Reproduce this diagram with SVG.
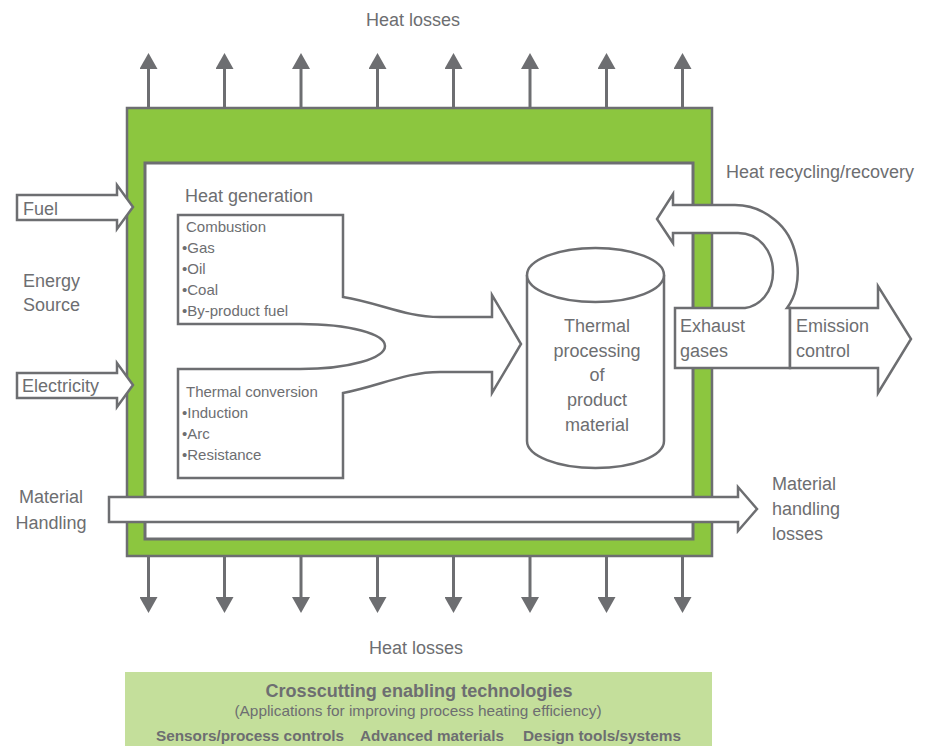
<svg xmlns="http://www.w3.org/2000/svg" width="932" height="746" viewBox="0 0 932 746">
  <style>
    text { font-family: "Liberation Sans", Arial, sans-serif; fill: #6d6e71; }
    .t18 { font-size: 18px; }
    .t15 { font-size: 15px; }
    .mid { text-anchor: middle; }
    .bold { font-weight: bold; }
    .outline { fill: #ffffff; stroke: #6d6e71; stroke-width: 2.5; stroke-linejoin: miter; }
    .loss { stroke: #6d6e71; stroke-width: 3; fill: none; }
  </style>
  <defs>
    <marker id="head" markerUnits="userSpaceOnUse" markerWidth="16" markerHeight="18" viewBox="0 0 16 18" refX="0" refY="9" orient="auto">
      <path d="M0 0 L16 9 L0 18 Z" fill="#6d6e71"/>
    </marker>
  </defs>

  <rect width="932" height="746" fill="#ffffff"/>

  <!-- furnace wall and interior -->
  <g id="furnace">
    <rect x="127" y="108" width="585" height="448" fill="#8cc63f" stroke="#6d6e71" stroke-width="2.5"/>
    <rect x="145" y="163" width="548" height="376" fill="#ffffff" stroke="#6d6e71" stroke-width="3"/>
  </g>

  <!-- heat generation block with merging arrow -->
  <g id="heat-generation">
    <text class="t18" x="185" y="202">Heat generation</text>
    <path class="outline" d="M 178 215 H 343 V 297 C 380 303, 405 317, 440 317 H 492 V 295 L 521 344 L 492 393 V 372 H 440 C 405 372, 380 386, 343 393 V 478 H 178 V 369 H 300 C 350 369, 385 358, 385 346 C 385 334, 350 324, 300 324 H 178 Z"/>
    <text class="t15" x="186" y="232">Combustion</text>
    <text class="t15" x="182" y="253">•Gas</text>
    <text class="t15" x="182" y="274">•Oil</text>
    <text class="t15" x="182" y="295">•Coal</text>
    <text class="t15" x="182" y="316">•By-product fuel</text>
    <text class="t15" x="186" y="397">Thermal conversion</text>
    <text class="t15" x="182" y="418">•Induction</text>
    <text class="t15" x="182" y="439">•Arc</text>
    <text class="t15" x="182" y="460">•Resistance</text>
  </g>

  <!-- product vessel -->
  <g id="thermal-processing">
    <path class="outline" d="M 527 275 V 441 A 68.5 27 0 0 0 664 441 V 275"/>
    <ellipse class="outline" cx="595.5" cy="275" rx="68.5" ry="27"/>
    <text class="t18 mid" x="597" y="332">Thermal</text>
    <text class="t18 mid" x="597" y="357">processing</text>
    <text class="t18 mid" x="597" y="381">of</text>
    <text class="t18 mid" x="597" y="406">product</text>
    <text class="t18 mid" x="597" y="431">material</text>
  </g>

  <!-- exhaust with recovery loop -->
  <g id="exhaust-gases">
    <path class="outline" d="M 675 308 H 745 C 760 306, 773 292, 773 272 C 773 252, 760 233, 738 233 H 673 V 243 L 657 219 L 673 194 V 205 H 735 C 750 205, 762 209, 775 220 C 800 240, 805 285, 787 308 H 790 V 368 H 675 Z"/>
    <text class="t18" x="680" y="332">Exhaust</text>
    <text class="t18" x="680" y="357">gases</text>
    <text class="t18" x="726" y="178">Heat recycling/recovery</text>
  </g>

  <g id="emission-control">
    <path class="outline" d="M 790 308 H 878 V 286 L 911 339 L 878 393 V 368 H 790 Z"/>
    <text class="t18" x="796" y="332">Emission</text>
    <text class="t18" x="796" y="357">control</text>
  </g>

  <!-- inputs, outputs and losses -->
  <g id="connectors">
    <path class="outline" d="M 17 195 H 117 V 185 L 133 207 L 117 229 V 220 H 17 Z"/>
    <path class="outline" d="M 17 373 H 117 V 363 L 133 385 L 117 407 V 398 H 17 Z"/>
    <path class="outline" d="M 109 497 H 738 V 487 L 757 509 L 738 531 V 522 H 109 Z"/>

    <g class="loss" marker-end="url(#head)">
      <line x1="148.5" y1="108" x2="148.5" y2="69"/>
      <line x1="224.5" y1="108" x2="224.5" y2="69"/>
      <line x1="301" y1="108" x2="301" y2="69"/>
      <line x1="377.5" y1="108" x2="377.5" y2="69"/>
      <line x1="453.5" y1="108" x2="453.5" y2="69"/>
      <line x1="530" y1="108" x2="530" y2="69"/>
      <line x1="606.5" y1="108" x2="606.5" y2="69"/>
      <line x1="682.5" y1="108" x2="682.5" y2="69"/>

      <line x1="148.5" y1="556" x2="148.5" y2="597"/>
      <line x1="224.5" y1="556" x2="224.5" y2="597"/>
      <line x1="301" y1="556" x2="301" y2="597"/>
      <line x1="377.5" y1="556" x2="377.5" y2="597"/>
      <line x1="453.5" y1="556" x2="453.5" y2="597"/>
      <line x1="530" y1="556" x2="530" y2="597"/>
      <line x1="606.5" y1="556" x2="606.5" y2="597"/>
      <line x1="682.5" y1="556" x2="682.5" y2="597"/>
    </g>
  </g>

  <!-- labels outside the furnace -->
  <g id="labels">
    <text class="t18 mid" x="413" y="26">Heat losses</text>
    <text class="t18 mid" x="416" y="654">Heat losses</text>
    <text class="t18" x="23" y="215">Fuel</text>
    <text class="t18" x="23" y="287">Energy</text>
    <text class="t18" x="23" y="311">Source</text>
    <text class="t18" x="22" y="392">Electricity</text>
    <text class="t18 mid" x="51" y="503">Material</text>
    <text class="t18 mid" x="51" y="529">Handling</text>
    <text class="t18" x="772" y="490">Material</text>
    <text class="t18" x="772" y="515">handling</text>
    <text class="t18" x="772" y="540">losses</text>
  </g>

  <!-- enabling technologies band -->
  <g id="crosscutting">
    <rect x="125" y="672" width="587" height="74" fill="#c4df9b"/>
    <text class="t18 mid bold" x="419" y="697" textLength="307" lengthAdjust="spacingAndGlyphs">Crosscutting enabling technologies</text>
    <text class="t15 mid" x="418" y="716" textLength="367" lengthAdjust="spacingAndGlyphs">(Applications for improving process heating efficiency)</text>
    <text class="t15 bold" x="156" y="741" textLength="188" lengthAdjust="spacingAndGlyphs">Sensors/process controls</text>
    <text class="t15 bold" x="360" y="741" textLength="144" lengthAdjust="spacingAndGlyphs">Advanced materials</text>
    <text class="t15 bold" x="523" y="741" textLength="158" lengthAdjust="spacingAndGlyphs">Design tools/systems</text>
  </g>
</svg>
